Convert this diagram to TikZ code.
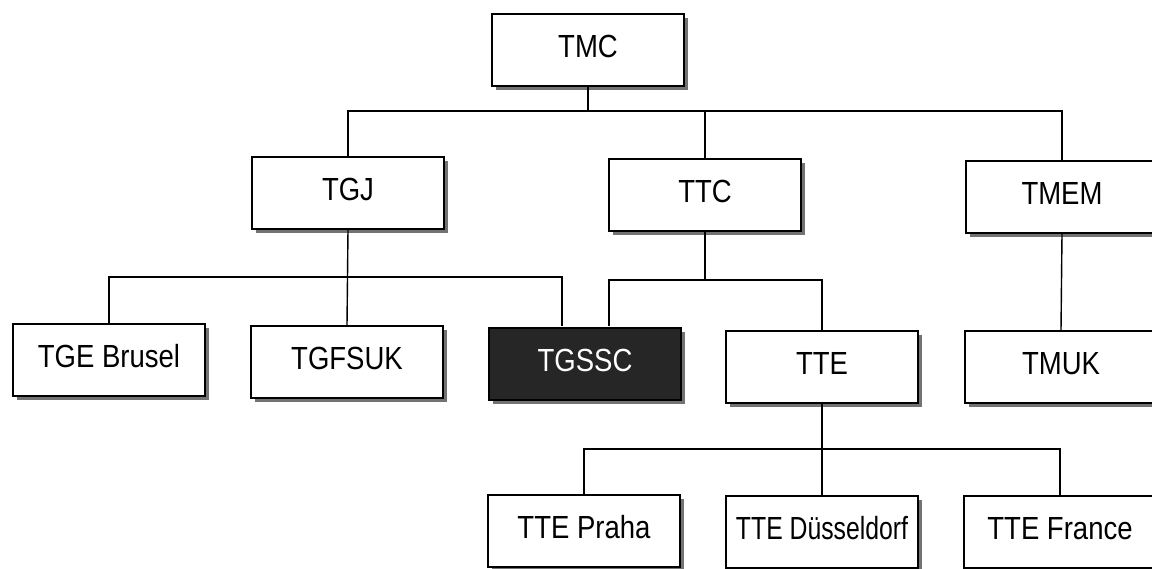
\documentclass[tikz,border=0pt]{standalone}
\usepackage{fontspec}
\setmainfont{Liberation Sans}[FakeStretch=0.86]
\usetikzlibrary{shadows}
\begin{document}
\begin{tikzpicture}[x=1pt,y=-1pt,
  orgbox/.style={draw=black, line width=1.6pt, fill=white,
    minimum width=192pt, minimum height=72pt, inner sep=0pt,
    text height=23pt, text depth=8pt,
    font=\fontsize{32}{36}\selectfont,
    drop shadow={shadow xshift=4pt, shadow yshift=-4pt, fill=black!55, opacity=1}},
  darkbox/.style={orgbox, fill=black!85, text=white},
  link/.style={draw=black, line width=1.4pt}]
\useasboundingbox (0,0) rectangle (1152,568);
% level 0
\node[orgbox] (TMC) at (588,50) {TMC};
% level 1
\node[orgbox] (TGJ) at (348,193) {TGJ};
\node[orgbox] (TTC) at (705,195) {TTC};
\node[orgbox] (TMEM) at (1062,197) {TMEM};
% level 2
\node[orgbox] (TGE) at (109,360) {TGE Brusel};
\node[orgbox] (TGFSUK) at (347,362) {TGFSUK};
\node[darkbox] (TGSSC) at (585,364) {TGSSC};
\node[orgbox] (TTE) at (822,367) {TTE};
\node[orgbox] (TMUK) at (1061,367) {TMUK};
% level 3
\node[orgbox] (PRA) at (584,531) {TTE Praha};
\node[orgbox] (DUS) at (822,532) {\scalebox{0.9}[1]{TTE Düsseldorf}};
\node[orgbox] (FRA) at (1060,532) {TTE France};
% junction coordinates
\coordinate (b1) at (588,111);
\coordinate (b2) at (347,277);
\coordinate (b3) at (705,280);
\coordinate (b4) at (822,449);
\coordinate (gin1) at (562,326);
\coordinate (gin2) at (609,326);
% connectors
\draw[link] (TMC.south) -- (b1);
\draw[link] (TGJ.north) |- (b1) -| (TMEM.north);
\draw[link] (TTC.north) -- (TTC.north |- b1);
\draw[link] (TGJ.south) -- (TGFSUK.north);
\draw[link] (TGE.north) |- (b2) -| (gin1);
\draw[link] (TTC.south) -- (b3);
\draw[link] (gin2) |- (b3) -| (TTE.north);
\draw[link] (TMEM.south) -- (TMUK.north);
\draw[link] (TTE.south) -- (DUS.north);
\draw[link] (PRA.north) |- (b4) -| (FRA.north);
\end{tikzpicture}
\end{document}
